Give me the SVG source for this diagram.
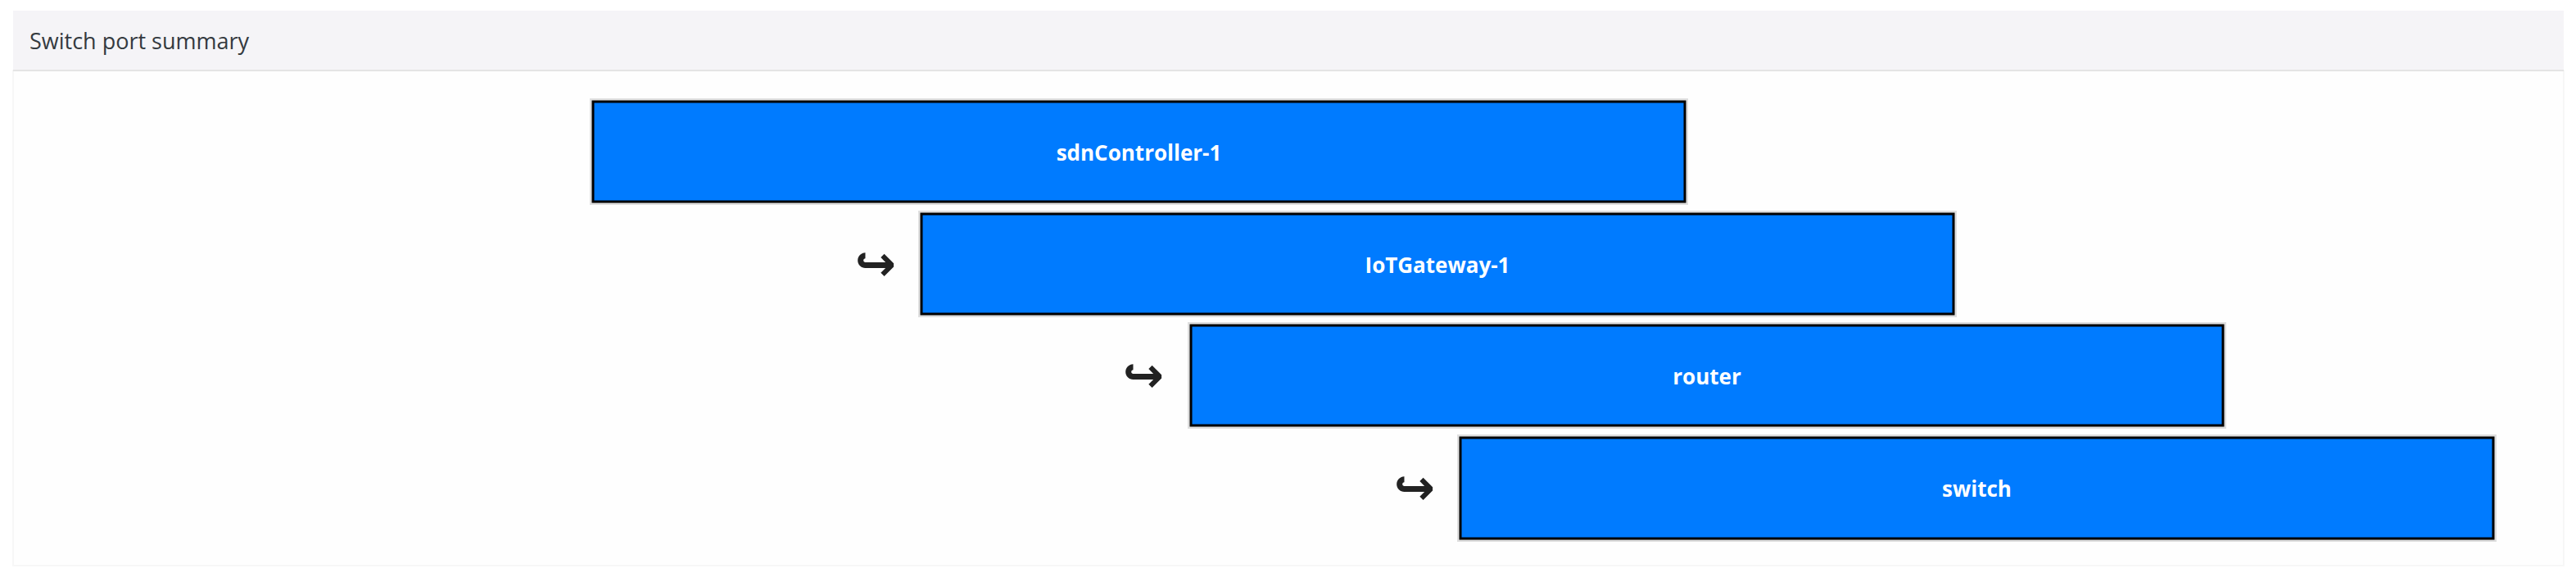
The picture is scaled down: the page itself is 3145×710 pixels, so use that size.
<svg xmlns="http://www.w3.org/2000/svg" width="3145" height="710" viewBox="0 0 3145 710">
<style>
.hdr{fill:#f5f4f7}
.title{font-family:"Open Sans","Liberation Sans",sans-serif;font-size:27px;fill:#343a40}
.box{fill:#007bff;stroke:#000;stroke-width:3}
.shadow{fill:none;stroke:#000;stroke-opacity:0.12;stroke-width:8}
.lbl{font-family:"Open Sans","Liberation Sans",sans-serif;font-size:26px;font-weight:700;fill:#fff;text-anchor:middle}
.arr{font-family:"DejaVu Sans",sans-serif;font-size:60px;font-weight:700;fill:#222;text-anchor:middle}
</style>
<rect width="3145" height="710" fill="#fff"/>
<g id="panel">
<rect x="16" y="86" width="3114" height="604" fill="#fefefe" stroke="#f7f7f7" stroke-width="2"/>
<rect class="hdr" x="16" y="13" width="3114" height="73"/>
<rect x="16" y="85" width="3114" height="2" fill="#e4e4e4"/>
<text class="title" x="36" y="60">Switch port summary</text>
</g>
<g id="connectors">
<text class="arr" x="1069" y="342">↪</text>
<text class="arr" x="1396" y="478">↪</text>
<text class="arr" x="1727" y="615">↪</text>
</g>
<g id="node-sdnController-1">
<rect class="shadow" x="724" y="124" width="1333" height="122"/>
<rect class="box" x="724" y="124" width="1333" height="122"/>
<text class="lbl" x="1390.5" y="196">sdnController-1</text>
</g>
<g id="node-IoTGateway-1">
<rect class="shadow" x="1125" y="261" width="1260" height="122"/>
<rect class="box" x="1125" y="261" width="1260" height="122"/>
<text class="lbl" x="1755" y="333">IoTGateway-1</text>
</g>
<g id="node-router">
<rect class="shadow" x="1454" y="397" width="1260" height="122"/>
<rect class="box" x="1454" y="397" width="1260" height="122"/>
<text class="lbl" x="2084" y="469">router</text>
</g>
<g id="node-switch">
<rect class="shadow" x="1783" y="534" width="1261" height="123"/>
<rect class="box" x="1783" y="534" width="1261" height="123"/>
<text class="lbl" x="2413.5" y="606">switch</text>
</g>
</svg>
